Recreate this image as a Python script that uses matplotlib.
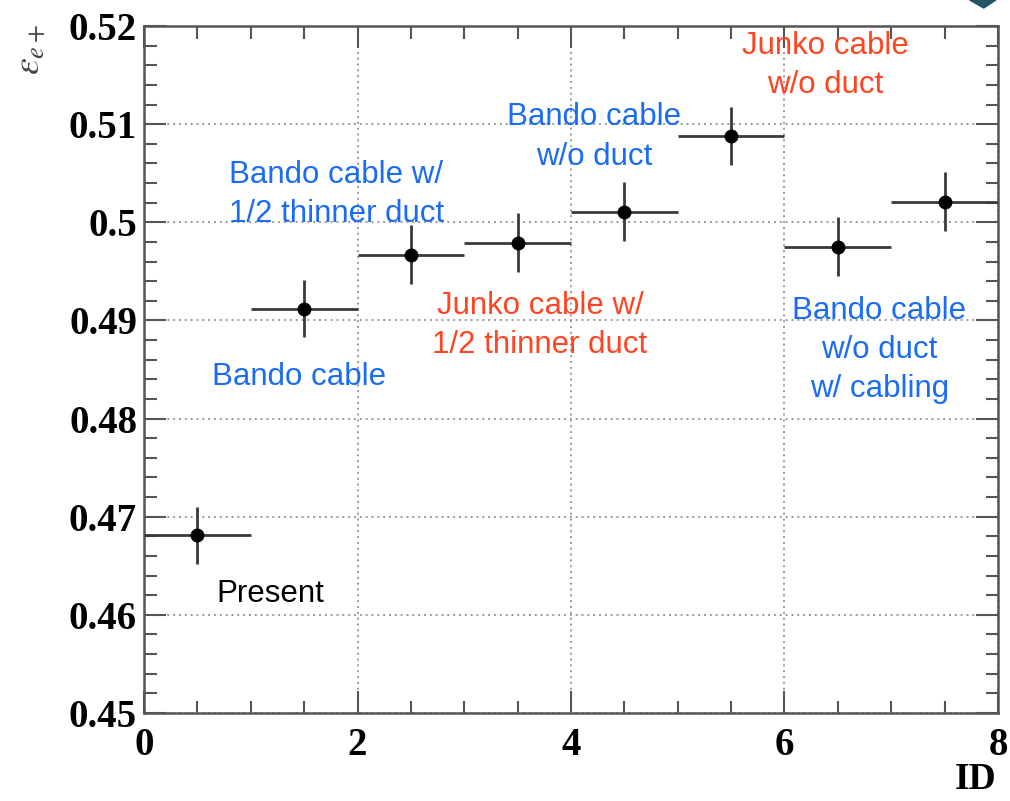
import matplotlib
matplotlib.use("Agg")
import matplotlib.pyplot as plt
from matplotlib.ticker import MultipleLocator, FormatStrFormatter
from matplotlib.patches import Polygon

plt.rcParams["mathtext.fontset"] = "stix"

# data
ids = [0.5, 1.5, 2.5, 3.5, 4.5, 5.5, 6.5, 7.5]
eff = [0.4681, 0.4912, 0.4967, 0.4979, 0.5011, 0.5088, 0.4975, 0.5021]
eff_err = [0.0029, 0.0029, 0.003, 0.003, 0.003, 0.003, 0.003, 0.003]
id_err = [0.5] * 8

labels = ["Present", "Bando cable", "Bando cable w/\n1/2 thinner duct",
          "Junko cable w/\n1/2 thinner duct", "Bando cable\nw/o duct",
          "Junko cable\nw/o duct", "Bando cable\nw/o duct\nw/ cabling"]
label_pos = [(1.18, 0.4621), (1.45, 0.4842), (1.8, 0.5028),
             (3.71, 0.4895), (4.22, 0.5087), (6.38, 0.5160), (6.89, 0.4870)]
blue = "#1a6cf5"
red = "#ff4422"
label_col = ["black", blue, blue, red, blue, red, blue]

fig = plt.figure(figsize=(10.1, 8.01), dpi=100)
ax = fig.add_axes([0.1426, 0.1099, 0.8455, 0.8576])

ax.errorbar(ids, eff, yerr=eff_err, xerr=id_err, fmt="o", color="black",
            ecolor="#3a3a3a", elinewidth=2, markersize=9, capsize=0, zorder=3)

ax.set_xlim(0, 8)
ax.set_ylim(0.45, 0.52)
ax.xaxis.set_major_locator(MultipleLocator(2))
ax.xaxis.set_minor_locator(MultipleLocator(0.5))
ax.yaxis.set_major_locator(MultipleLocator(0.01))
ax.yaxis.set_minor_locator(MultipleLocator(0.002))
ax.yaxis.set_major_formatter(FormatStrFormatter("%g"))
ax.xaxis.set_major_formatter(FormatStrFormatter("%d"))

ax.grid(True, which="major", linestyle=(0, (1, 2)), color="#999999", linewidth=1.4)
ax.tick_params(which="both", direction="in", top=True, right=True,
               color="#555555", width=1.5)
ax.tick_params(which="major", length=16)
ax.tick_params(which="minor", length=9)
ax.tick_params(axis="y", which="major", pad=5)
ax.tick_params(axis="x", which="major", pad=10)
for lab in ax.get_xticklabels() + ax.get_yticklabels():
    lab.set_fontfamily("Liberation Serif")
    lab.set_fontweight("bold")
    lab.set_fontsize(28)
for s in ax.spines.values():
    s.set_color("#555555")
    s.set_linewidth(1.8)

fig.text(976 / 1010, 4 / 801, "ID", fontfamily="Liberation Serif",
         fontweight="bold", fontsize=27, ha="center", va="bottom")
fig.text(30 / 1010, 1 - 24 / 801, r"$\varepsilon_{e+}$", rotation=90,
         fontsize=27, color="#444444", ha="center", va="top")

for txt, (x, y), c in zip(labels, label_pos, label_col):
    ax.text(x, y, txt, color=c, fontsize=22.5, fontfamily="Liberation Sans",
            ha="center", va="center", linespacing=1.4)

# dark teal corner shape at the top right
fig.patches.append(Polygon([(0.960, 1.0), (0.974, 0.990), (0.986, 1.0)],
                           closed=True, transform=fig.transFigure,
                           color="#1f5565"))

fig.savefig("out.png", dpi=100)
